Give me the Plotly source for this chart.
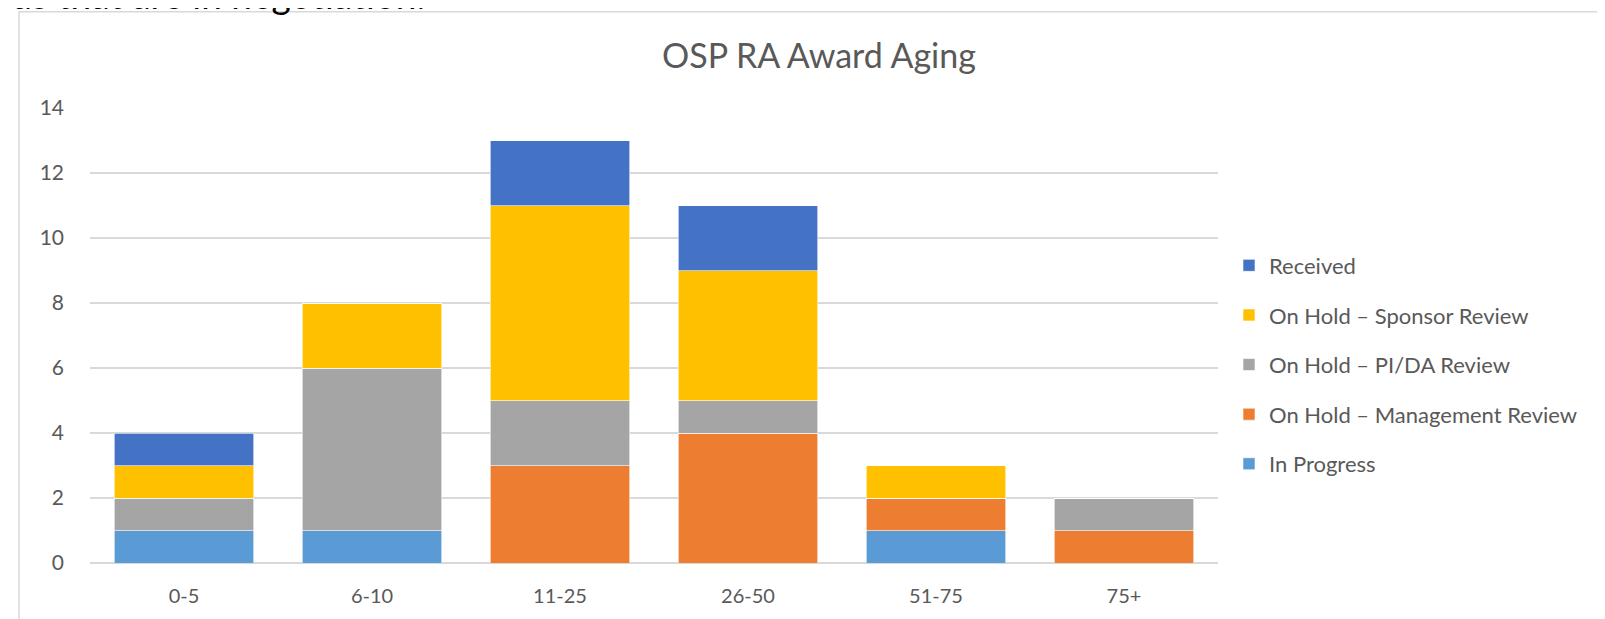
import plotly.graph_objects as go

# age buckets (days) and counts per status
categories = ['0-5', '6-10', '11-25', '26-50', '51-75', '75+']
in_progress = [1, 1, 0, 0, 1, 0]
mgmt_review = [0, 0, 3, 4, 1, 1]
pida_review = [1, 5, 2, 1, 0, 1]
sponsor_review = [1, 2, 6, 4, 1, 0]
received = [1, 0, 2, 2, 0, 0]

# bottom-to-top stacking order, legend is listed top-down in reverse
series = [
    ('In Progress', in_progress, '#5B9BD5'),
    ('On Hold \u2013 Management Review', mgmt_review, '#ED7D31'),
    ('On Hold \u2013 PI/DA Review', pida_review, '#A5A5A5'),
    ('On Hold \u2013 Sponsor Review', sponsor_review, '#FFC000'),
    ('Received', received, '#4472C4'),
]

# page body has an 8px margin, so screen positions below are shifted by OFF
OFF = 8
W, H = 1605 - OFF, 619 - OFF
L, R, T, B = 90 - OFF, 387, 107.5 - OFF, 58 - OFF
pw, ph = W - L - R, H - T - B


def px_x(x):
    return (x - OFF - L) / pw


def px_y(y):
    return (H - B - (y - OFF)) / ph


fig = go.Figure()
for i, (name, vals, color) in enumerate(series):
    fig.add_trace(go.Bar(
        x=categories, y=vals, name=name, legendgroup=name,
        legendrank=len(series) - i,
        marker=dict(color=color, line=dict(color='white', width=0.6)),
    ))

fig.update_layout(
    width=W, height=H,
    barmode='stack', bargap=0.26,
    margin=dict(l=L, r=R, t=T, b=B),
    paper_bgcolor='white', plot_bgcolor='white',
    font=dict(family='Lato', color='#595959', size=19),
    title=dict(text='OSP RA Award Aging', x=(819 - OFF) / W, xanchor='center',
               y=1 - (56 - OFF) / H, yanchor='middle', yref='container',
               font=dict(size=34, color='#595959')),
    legend=dict(x=px_x(1229), y=px_y(246), xanchor='left', yanchor='top',
                traceorder='grouped', tracegroupgap=18,
                font=dict(size=22, color='#595959')),
    xaxis=dict(showgrid=False, showline=False, ticks='', ticklabelstandoff=19,
               tickfont=dict(size=20)),
    yaxis=dict(range=[0, 14], dtick=2, showgrid=True, gridcolor='#D9D9D9', gridwidth=1.5,
               zeroline=True, zerolinecolor='#D9D9D9', zerolinewidth=1.5,
               ticks='', ticklabelstandoff=25, tickfont=dict(size=21)),
)

# frame of the embedded chart
fig.add_shape(type='rect', xref='paper', yref='paper',
              x0=px_x(19), x1=px_x(1700), y0=px_y(700), y1=px_y(10),
              line=dict(color='#D9D9D9', width=1.5), fillcolor='rgba(0,0,0,0)', layer='below')

# text of the document above the chart, cut at the top edge
fig.add_annotation(text='ards that are in negotiation.', xref='paper', yref='paper',
                   x=px_x(-22), y=px_y(17), xanchor='left', yanchor='bottom',
                   showarrow=False, font=dict(size=37, color='#000000'))

fig.write_html('out.html')
